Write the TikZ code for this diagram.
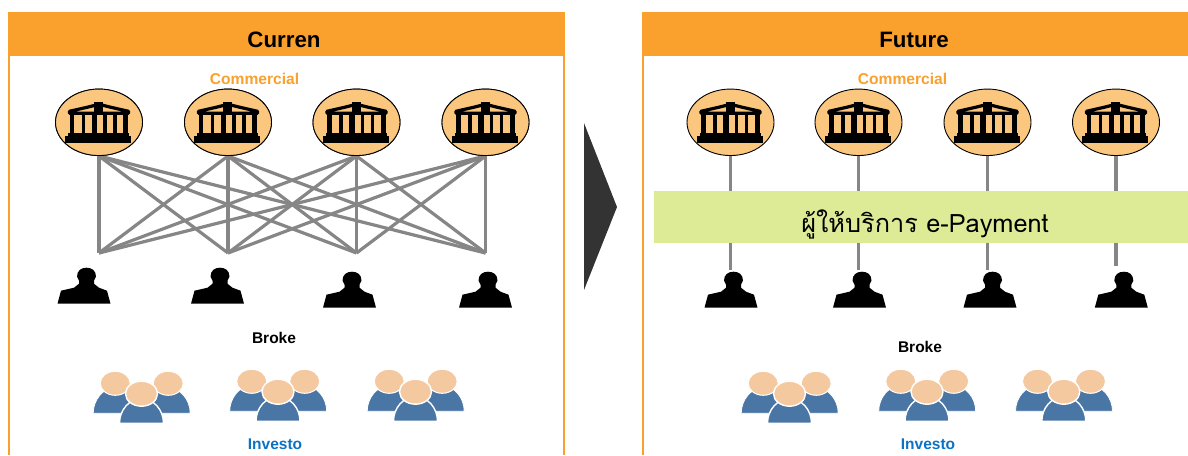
\documentclass[tikz,border=0pt]{standalone}
\usepackage{fontspec}
\setmainfont{Liberation Sans}
\newfontfamily\thaifont[Script=Thai]{Loma}
\usetikzlibrary{shapes.geometric}
\definecolor{hdorange}{HTML}{FAA02C}
\definecolor{bankfill}{HTML}{FBC77E}
\definecolor{linkgray}{HTML}{868686}
\definecolor{paygreen}{HTML}{DDEA96}
\definecolor{headskin}{HTML}{F4C9A0}
\definecolor{bodyblue}{HTML}{4A76A6}
\definecolor{investblue}{HTML}{0C72C4}
\tikzset{
  panelhead/.style={fill=hdorange,draw=none,minimum height=44pt,inner sep=0pt},
  paneltitle/.style={font=\fontsize{22.3}{24}\selectfont\bfseries},
  banklabel/.style={font=\fontsize{15.6}{17}\selectfont\bfseries,text=hdorange},
  brokerlabel/.style={font=\fontsize{15.5}{17}\selectfont\bfseries,text=black},
  investlabel/.style={font=\fontsize{15.5}{17}\selectfont\bfseries,text=investblue},
  bankoval/.style={ellipse,draw=black,fill=bankfill,line width=.9pt,minimum width=87pt,minimum height=66.5pt,inner sep=0pt},
  linkline/.style={draw=linkgray,line width=3.2pt},
  anchorpt/.style={inner sep=0pt,minimum size=0pt},
  pics/bankicon/.style={code={
    \draw[black,line width=3.2pt,line join=round] (-29.5,-9)--(-29.5,-11)--(-12,-15)--(0,-18)--(12,-15)--(29.5,-11)--(29.5,-9)--cycle;
    \foreach \cx/\w in {-27/2.3,-15.5/1.7,-4.5/2.6,6/1.9,16/1.9,26.7/2.5}
      \fill[black] (\cx-\w,-9) rectangle (\cx+\w,14);
    \fill[black] (-5,-20) rectangle (4,-10);
    \fill[black] (-31,11) rectangle (30,14);
    \fill[black] (-34,14) rectangle (32,20.7);
  }},
  pics/brokericon/.style={code={
    \fill[black] (-26.5,0)--(-23,-13)--(-10,-16)--(-5,-20)--(-5,-23)--(-7,-27)
      .. controls (-7,-33) and (-3,-36) .. (2.5,-36)
      .. controls (8,-36) and (12,-33) .. (12,-27)
      --(10,-23)--(10,-20)--(15,-16)--(23,-13)--(26.5,0)--cycle;
  }},
  pics/investicon/.style={code={
    \foreach \sx in {-26.3,26.7}{
      \fill[bodyblue,draw=white,line width=.8pt] (\sx-22,19.6) .. controls (\sx-22,6) and (\sx-12,-6) .. (\sx,-6)
        .. controls (\sx+12,-6) and (\sx+22,6) .. (\sx+22,19.6) -- cycle;
      \fill[headskin,draw=white,line width=1pt] (\sx,-10.4) ellipse (15 and 12);
    }
    \fill[bodyblue,draw=white,line width=1.4pt] (-22,29.6) .. controls (-22,16) and (-12,5) .. (0,5)
      .. controls (12,5) and (22,16) .. (22,29.6) -- cycle;
    \fill[headskin,draw=white,line width=1.4pt] (0,0) ellipse (16 and 12.5);
  }}
}
\begin{document}
\begin{tikzpicture}[x=1pt,y=-1pt,line cap=butt]
\useasboundingbox (0,0) rectangle (1188,455);
% panels
\draw[hdorange,line width=2pt] (9,12)--(9,455) (564,12)--(564,455);
\draw[hdorange,line width=2pt] (642.5,12)--(642.5,455);
\node[panelhead,minimum width=557pt] (headL) at (286.5,34) {};
\node[panelhead,minimum width=546pt] (headR) at (915,34) {};
\node[paneltitle] (titleL) at (284,39.5) {Curren};
\node[paneltitle] (titleR) at (914,39.5) {Future};
\node[banklabel] (bankL) at (254.5,78.5) {Commercial};
\node[banklabel] (bankR) at (902.5,78.5) {Commercial};
\node[brokerlabel] (brokerL) at (274,338) {Broke};
\node[brokerlabel] (brokerR) at (920,347) {Broke};
\node[investlabel] (investL) at (275,444) {Investo};
\node[investlabel] (investR) at (928,444) {Investo};
% arrow between panels
\fill[black!80] (584,123)--(617,207)--(584,290)--cycle;
% current side
\foreach \i/\x in {1/99,2/228,3/356.5,4/485.5}{
  \node[bankoval] (bankL\i) at (\x,122.3) {};
  \node[anchorpt] (dropL\i) at (\x,253) {};
}
\foreach \i in {1,2,3,4}
  \foreach \j in {1,2,3,4}
    \draw[linkline] (bankL\i.south) -- (dropL\j.center);
\foreach \i in {1,2,3,4}{
  \node[bankoval] at (bankL\i) {};
  \pic at (bankL\i) {bankicon};
}
\foreach \x/\y in {84/303.7,217.5/303.7,349.5/307.7,485.5/307.7}
  \pic at (\x,\y) {brokericon};
% future side
\foreach \i/\x/\y in {1/730.5/270,2/858.5/270,3/987.5/270,4/1116/266}{
  \node[anchorpt] (dropR\i) at (\x,\y) {};
  \node[bankoval] (bankR\i) at (\x,122.3) {};
  \draw[linkline] (bankR\i.south) -- (dropR\i.center);
  \pic at (bankR\i) {bankicon};
}
\foreach \x in {731,859.5,990,1121.3}
  \pic at (\x,307.7) {brokericon};
\node[fill=paygreen,minimum width=534pt,minimum height=52pt,inner sep=0pt] (payband) at (921,217) {};
\node[font=\fontsize{25.3}{28}\selectfont\thaifont] (paytext) at (925,224) {ผู้ให้บริการ e-Payment};
% investors
\foreach \x/\y in {141.5/393.7,278/391.7,415.5/391.7,789.5/393.7,927/391.7,1063.8/391.7}
  \pic at (\x,\y) {investicon};
\end{tikzpicture}
\end{document}
